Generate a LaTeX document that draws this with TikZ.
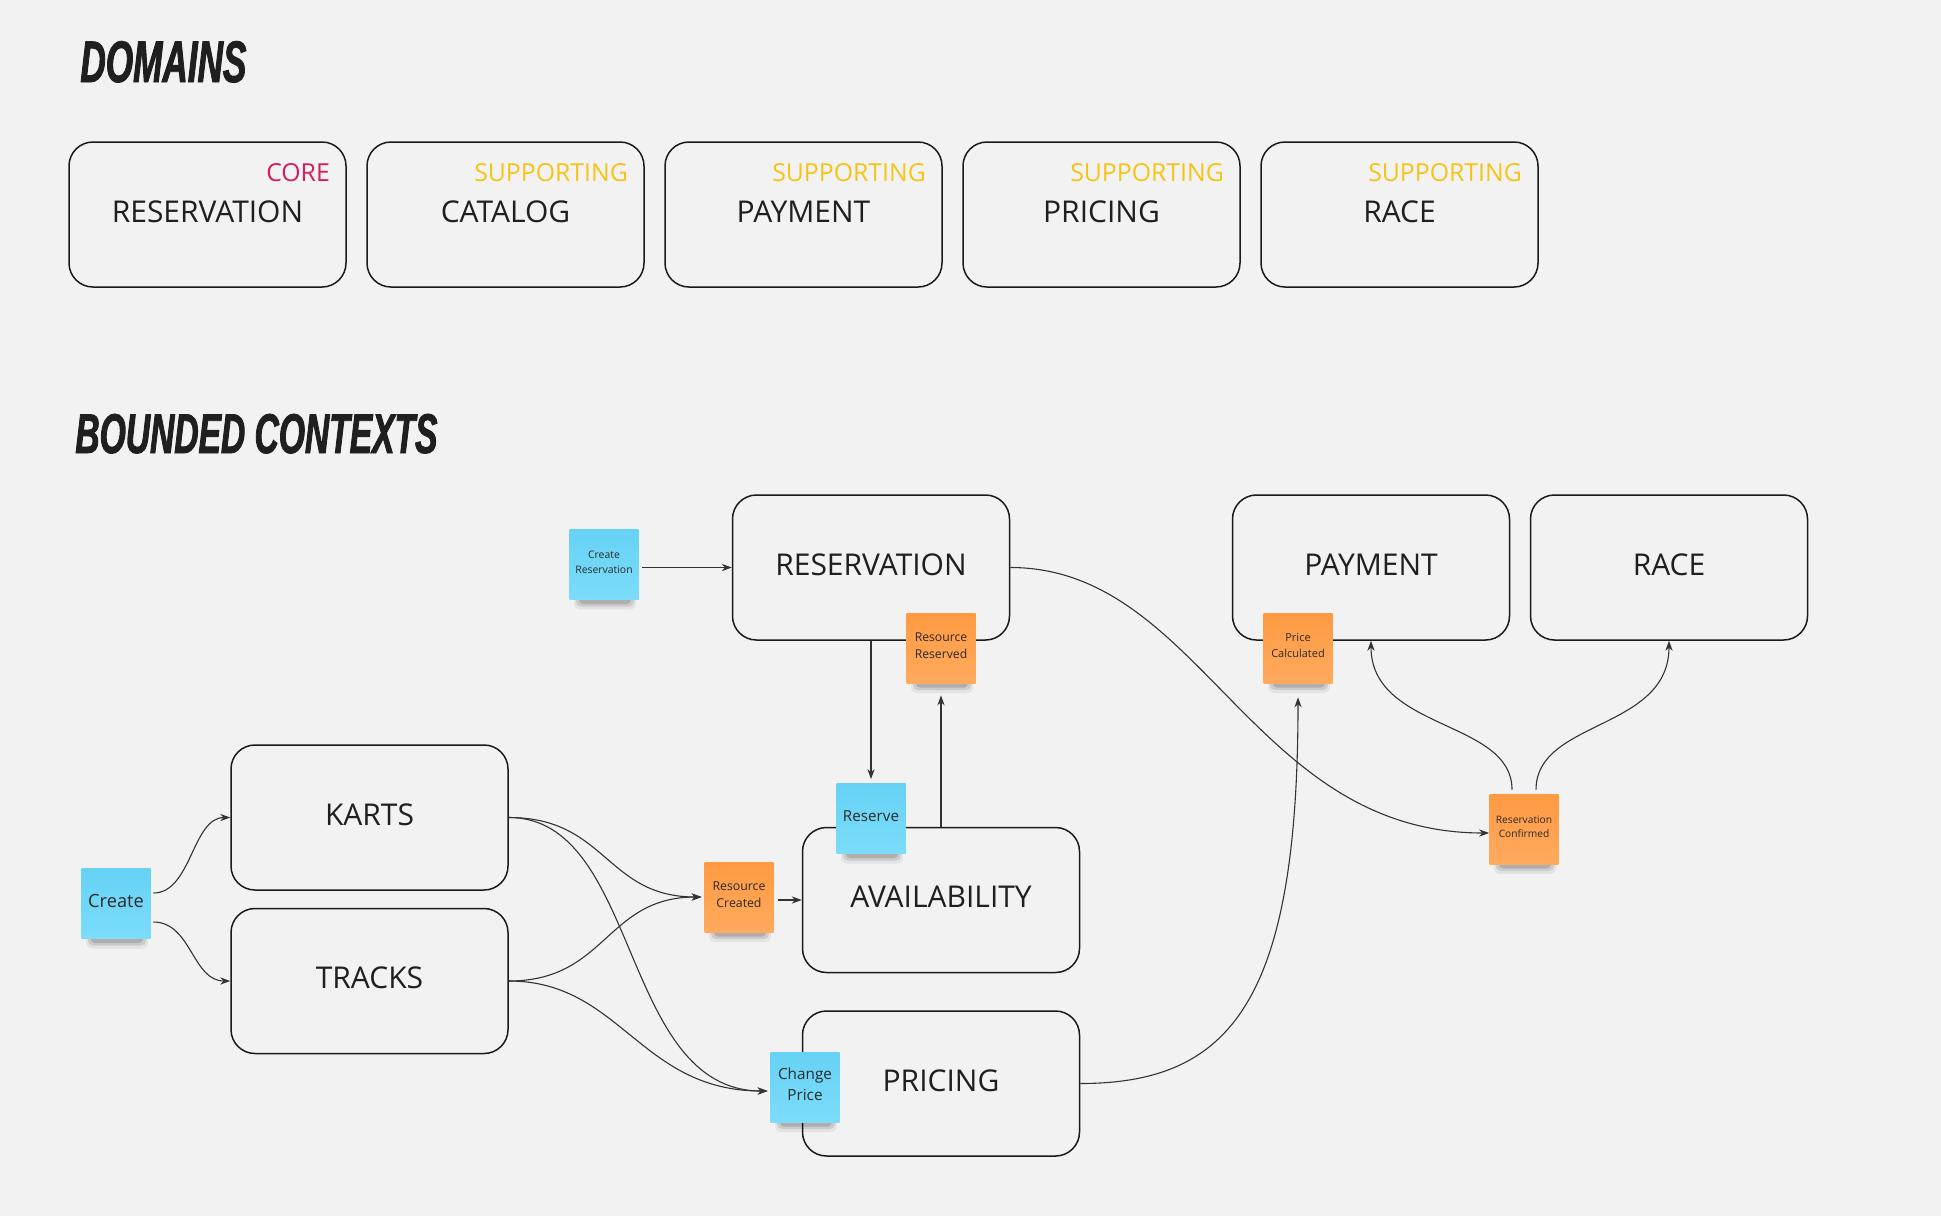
\documentclass[tikz,border=0pt]{standalone}
\usepackage{fontspec}
\setmainfont{Open Sans}
\newfontfamily\headfont{Liberation Sans}[FakeStretch=0.6,FakeBold=1.5]
\usetikzlibrary{arrows.meta}
\definecolor{bgc}{HTML}{F2F2F2}
\definecolor{boxline}{HTML}{1A1A1A}
\definecolor{labelc}{HTML}{1F1F1F}
\definecolor{corec}{HTML}{D81B60}
\definecolor{suppc}{HTML}{F5C414}
\definecolor{bluetop}{HTML}{66D2F5}
\definecolor{bluebot}{HTML}{7CDCFA}
\definecolor{orangetop}{HTML}{FF9A42}
\definecolor{orangebot}{HTML}{FFAA5E}
\definecolor{stickytext}{HTML}{2A2A2A}
\definecolor{connc}{HTML}{333333}
\newcommand{\stickyshade}[1]{%
  \begin{scope}[shift={#1}]
    \fill[black, opacity=0.06, rounded corners=3pt] (-30,26) rectangle (32,45);
    \fill[black, opacity=0.10, rounded corners=2.5pt] (-28,29) rectangle (30,42);
    \fill[black, opacity=0.14, rounded corners=2pt] (-25,31) rectangle (27,39.5);
  \end{scope}}
\tikzset{
  ctxbox/.style={draw=boxline, line width=0.75pt, rounded corners=12pt,
    minimum width=138.5pt, minimum height=72.5pt, inner sep=0pt,
    text=labelc, font=\fontsize{15}{18}\selectfont, text depth=3pt},
  tagtext/.style={inner sep=0pt, font=\fontsize{12.4}{15}\selectfont, anchor=east},
  sticky/.style={minimum width=34.5pt, minimum height=35pt, inner sep=0.5pt,
    align=center, text=stickytext, text depth=2.5pt},
  bluesticky/.style={sticky, top color=bluetop, bottom color=bluebot},
  orangesticky/.style={sticky, top color=orangetop, bottom color=orangebot},
  conn/.style={draw=connc, line width=0.55pt, -{Stealth[length=5pt,width=3.6pt]}},
  headtext/.style={inner sep=0pt, anchor=base west, text=labelc}
}
\begin{document}
\begin{tikzpicture}[x=0.5pt,y=-0.5pt]
\useasboundingbox (0,0) rectangle (1941,1216);
\fill[bgc] (0,0) rectangle (1941,1216);

% headings
\node[headtext, font=\headfont\bfseries\itshape\fontsize{29.3}{32}\selectfont] (hdom) at (80,82) {DOMAINS};
\node[headtext, font=\headfont\bfseries\itshape\fontsize{28}{32}\selectfont] (hbc) at (75,453) {BOUNDED CONTEXTS};

% domain boxes
\node[ctxbox] (dom1) at (207.5,214.5) {RESERVATION};
\node[ctxbox] (dom2) at (505.5,214.5) {CATALOG};
\node[ctxbox] (dom3) at (803.5,214.5) {PAYMENT};
\node[ctxbox] (dom4) at (1101.5,214.5) {PRICING};
\node[ctxbox] (dom5) at (1399.5,214.5) {RACE};
\node[tagtext, text=corec] (tag1) at ([xshift=-8.25pt,yshift=-15.5pt]dom1.north east) {CORE};
\node[tagtext, text=suppc] (tag2) at ([xshift=-8.25pt,yshift=-15.5pt]dom2.north east) {SUPPORTING};
\node[tagtext, text=suppc] (tag3) at ([xshift=-8.25pt,yshift=-15.5pt]dom3.north east) {SUPPORTING};
\node[tagtext, text=suppc] (tag4) at ([xshift=-8.25pt,yshift=-15.5pt]dom4.north east) {SUPPORTING};
\node[tagtext, text=suppc] (tag5) at ([xshift=-8.25pt,yshift=-15.5pt]dom5.north east) {SUPPORTING};

% bounded context boxes
\node[ctxbox] (res) at (871,567.5) {RESERVATION};
\node[ctxbox] (pay) at (1371,567.5) {PAYMENT};
\node[ctxbox] (race) at (1669,567.5) {RACE};
\node[ctxbox] (karts) at (369.5,817.5) {KARTS};
\node[ctxbox] (tracks) at (369.5,981) {TRACKS};
\node[ctxbox] (avail) at (941,900) {AVAILABILITY};
\node[ctxbox] (pricing) at (941,1083.5) {PRICING};

% sticky shadows
\stickyshade{(604,564.5)}
\stickyshade{(941,648)}
\stickyshade{(871,818.5)}
\stickyshade{(739,897)}
\stickyshade{(805,1087)}
\stickyshade{(116,903.5)}
\stickyshade{(1298,648)}
\stickyshade{(1524,829)}

% stickies
\node[bluesticky, font=\fontsize{5.2}{7.3}\selectfont] (cres) at (604,564.5) {Create\\Reservation};
\node[orangesticky, font=\fontsize{6.1}{8.5}\selectfont] (rreserved) at (941,648) {Resource\\Reserved};
\node[bluesticky, font=\fontsize{7.6}{10}\selectfont] (reserve) at (871,818.5) {Reserve};
\node[orangesticky, font=\fontsize{6.15}{8.5}\selectfont] (rc) at (739,897) {Resource\\Created};
\node[bluesticky, font=\fontsize{7.65}{10.5}\selectfont] (cp) at (805,1087) {Change\\Price};
\node[bluesticky, font=\fontsize{9.1}{12}\selectfont] (create) at (116,903.5) {Create};
\node[orangesticky, font=\fontsize{5.5}{7.6}\selectfont] (pcalc) at (1298,648) {Price\\Calculated};
\node[orangesticky, font=\fontsize{5.1}{7.2}\selectfont] (conf) at (1524,829) {Reservation\\Confirmed};

% connectors
\draw[conn, shorten <=1.5pt] (cres.east |- res.west) -- (res.west);
\draw[conn, shorten >=2pt] (res.south) -- (reserve.north);
\draw[conn] (avail.north) -- ([yshift=-6pt]rreserved.south);
\draw[conn] (res.east) .. controls +(191,0) and +(-238,0) .. ([yshift=-2pt]conf.west);
\draw[conn] (pricing.east) .. controls +(151,0) and +(0,303) .. ([yshift=-7pt]pcalc.south);
\draw[conn] ([xshift=-6pt,yshift=2pt]conf.north) .. controls +(0,-70) and +(0,90) .. (pay.south);
\draw[conn] ([xshift=6pt,yshift=2pt]conf.north) .. controls +(0,-70) and +(0,90) .. (race.south);
\draw[conn] ([xshift=1.25pt,yshift=5.25pt]create.east) .. controls +(38,0) and +(-38,0) .. (karts.west);
\draw[conn] ([xshift=1.25pt,yshift=-9.25pt]create.east) .. controls +(38,0) and +(-38,0) .. (tracks.west);
\draw[conn] (karts.east) .. controls +(98,0) and +(-96,0) .. ([xshift=-1.25pt]rc.west);
\draw[conn] (tracks.east) .. controls +(98,0) and +(-96,0) .. ([xshift=-1.25pt]rc.west);
\draw[conn] (karts.east) .. controls +(132,0) and +(-148,0) .. ([xshift=-1.25pt,yshift=-2pt]cp.west);
\draw[conn] (tracks.east) .. controls +(112,0) and +(-128,0) .. ([xshift=-1.25pt,yshift=-2pt]cp.west);
\draw[conn, shorten <=2pt] (rc.east |- avail.west) -- (avail.west);
\end{tikzpicture}
\end{document}
